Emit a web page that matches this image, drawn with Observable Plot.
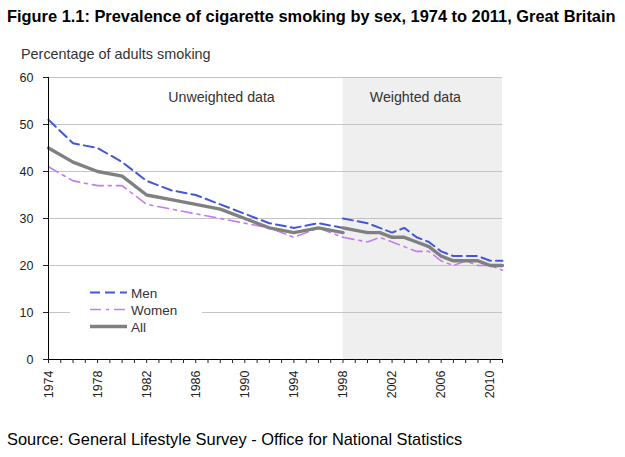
<!DOCTYPE html>
<html><head><meta charset="utf-8">
<script src="https://cdn.jsdelivr.net/npm/d3@7"></script>
<script src="https://cdn.jsdelivr.net/npm/@observablehq/plot@0.6"></script>
<style>
body{margin:0;background:#fff;font-family:"Liberation Sans",Arial,sans-serif;}
#wrap{position:relative;width:625px;height:457px;overflow:hidden;}
#chart svg{position:absolute;left:0;top:0;}
.t{position:absolute;white-space:nowrap;line-height:1;}
#title{left:7px;top:8px;font-weight:bold;font-size:16.4px;color:#000;}
#ylab{left:21px;top:47px;font-size:14.4px;color:#333;}
#source{left:7px;top:431px;font-size:16.4px;color:#000;}
#legend{position:absolute;left:70px;top:282px;width:132px;height:54px;background:#fff;}
</style></head><body>
<div id="wrap">
<div id="chart"></div>
<div class="t" id="title">Figure 1.1: Prevalence of cigarette smoking by sex, 1974 to 2011, Great Britain</div>
<div class="t" id="ylab">Percentage of adults smoking</div>
<div id="legend"></div>
<div class="t" id="source">Source: General Lifestyle Survey - Office for National Statistics</div>
</div>
<script>
// ---- data ----
const unweightedYears = [1974,1976,1978,1980,1982,1984,1986,1988,1990,1992,1994,1996,1998];
const menUnweighted   = [51,46,45,42,38,36,35,33,31,29,28,29,28];
const womenUnweighted = [41,38,37,37,33,32,31,30,29,28,26,28,26];
const allUnweighted   = [45,42,40,39,35,34,33,32,30,28,27,28,27];

const weightedYears = [1998,2000,2001,2002,2003,2004,2005,2006,2007,2008,2009,2010,2011];
const menWeighted   = [30,29,28,27,28,26,25,23,22,22,22,21,21];
const womenWeighted = [26,25,26,25,24,23,23,21,20,21,20,20,19];
const allWeighted   = [28,27,27,26,26,25,24,22,21,21,21,20,20];

const seriesNames = ["Men","Women","All"];
const yTicks = [0,10,20,30,40,50,60];
const gridTicks = [10,20,30,40,50,60];
const xTickYears = d3.range(1974, 2012);
const xLabelYears = [1974,1978,1982,1986,1990,1994,1998,2002,2006,2010];
const periods = [{label:"Weighted data", start:1998, end:2011}];
const periodLabels = [
  {label:"Unweighted data", year:1988.1, value:55.7},
  {label:"Weighted data", year:2003.9, value:55.7}
];

// ---- styles ----
const styles = {
  Men:   {stroke:"#4457d8", strokeWidth:2,   strokeDasharray:"10,5"},
  Women: {stroke:"#c47ded", strokeWidth:1.6, strokeDasharray:"11,5,3,5"},
  All:   {stroke:"#808080", strokeWidth:3.4, strokeDasharray:null}
};

const rows = [];
function add(series, segment, years, vals){
  years.forEach((y,i)=>rows.push({series, segment, year:y, value:vals[i]}));
}
add("Men","unweighted",unweightedYears,menUnweighted);
add("Women","unweighted",unweightedYears,womenUnweighted);
add("All","unweighted",unweightedYears,allUnweighted);
add("Men","weighted",weightedYears,menWeighted);
add("Women","weighted",weightedYears,womenWeighted);
add("All","weighted",weightedYears,allWeighted);

const lineMarks = ["Women","Men","All"].map(s => Plot.line(rows.filter(d=>d.series===s), {
  x:"year", y:"value", z:"segment", ...styles[s], strokeLinejoin:"round"
}));

const chart = Plot.plot({
  width:625, height:457,
  marginLeft:48, marginRight:123, marginTop:77, marginBottom:98,
  x:{domain:[1974,2011]},
  y:{domain:[0,60]},
  style:{fontFamily:"Liberation Sans, Arial, sans-serif", fontSize:"12px", color:"#222", background:"transparent"},
  marks:[
    Plot.rect(periods, {x1:"start", x2:"end", fill:"#efefef"}),
    Plot.ruleY(gridTicks, {stroke:"#c4c4c4", strokeWidth:1}),
    ...lineMarks,
    Plot.ruleY([0], {stroke:"#000"}),
    Plot.ruleX([1974], {stroke:"#000"}),
    Plot.axisY({ticks:yTicks, tickSize:5, tickPadding:10, label:null, fontSize:12.5}),
    Plot.axisX({ticks:xTickYears, tickSize:4, text:null, label:null}),
    Plot.axisX({ticks:xLabelYears, tickSize:0, tickRotate:-90, tickPadding:11, tickFormat:d=>String(d), label:null, fontSize:12.5}),
    Plot.text(periodLabels, {x:"year", y:"value", text:"label", fontSize:14.2, fill:"#333"})
  ]
});
document.getElementById("chart").appendChild(chart);

// ---- legend ----
const lg = d3.select("#legend").append("svg").attr("width",132).attr("height",54);
seriesNames.forEach((s,i)=>{
  const y = 10.5 + i*17;
  const st = styles[s];
  lg.append("line").attr("x1",20).attr("x2",57).attr("y1",y).attr("y2",y)
    .attr("stroke",st.stroke).attr("stroke-width",st.strokeWidth)
    .attr("stroke-dasharray",st.strokeDasharray);
  lg.append("text").attr("x",61).attr("y",y+5).text(s)
    .attr("font-size","13.5px").attr("fill","#333")
    .attr("font-family","Liberation Sans, Arial, sans-serif");
});
</script>
</body></html>
